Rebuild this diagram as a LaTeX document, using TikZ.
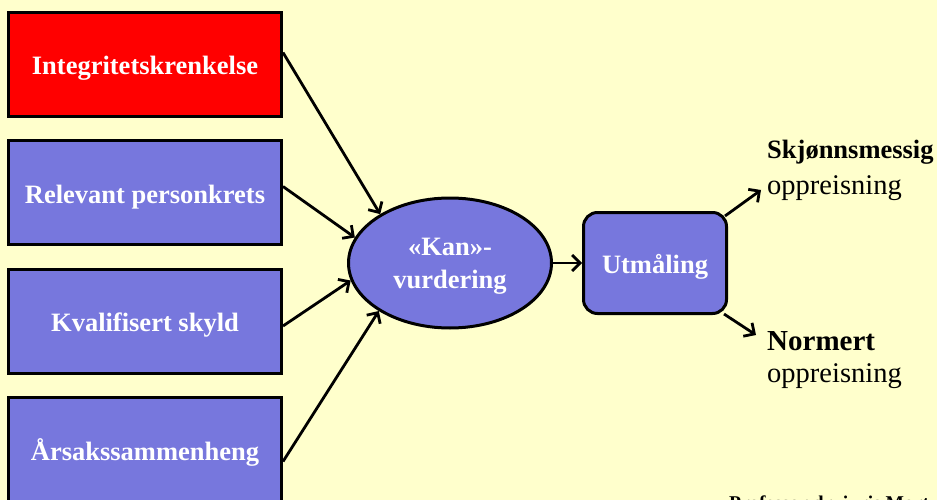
\documentclass[tikz,border=0pt]{standalone}
\usepackage{fontspec}
\setmainfont{Liberation Serif}
\usetikzlibrary{shapes.geometric,arrows.meta,calc}
\definecolor{bgyellow}{RGB}{255,255,204}
\definecolor{boxblue}{RGB}{119,119,221}
\definecolor{boxred}{RGB}{255,0,0}
\tikzset{
  factbox/.style={draw=black, line width=3pt, minimum width=273pt, minimum height=104pt,
    inner sep=0pt, text=white, text height=21pt, text depth=0pt, font=\fontsize{26.5}{32}\selectfont\bfseries},
  arr/.style={line width=2.8pt, -{Straight Barb[length=8pt,width=16pt,line width=2.8pt]}},
  outtext/.style={anchor=base west, inner sep=0pt, font=\fontsize{28.5}{33}\selectfont},
}
\begin{document}
\begin{tikzpicture}[x=1pt,y=-1pt]
\useasboundingbox (0,0) rectangle (937,500);
\fill[bgyellow] (0,0) rectangle (937,500);
\clip (0,0) rectangle (937,500);
\node[factbox, fill=boxred] (b1) at (145,64.5) {Integritetskrenkelse};
\node[factbox, fill=boxblue] (b2) at (145,192.5) {Relevant personkrets};
\node[factbox, fill=boxblue] (b3) at (145,321) {Kvalifisert skyld};
\node[factbox, fill=boxblue] (b4) at (145,449.5) {Årsakssammenheng};
\node[ellipse, draw=black, line width=3pt, fill=boxblue, minimum width=203pt, minimum height=130pt,
  inner sep=0pt, align=center, text=white, text depth=0pt, font=\fontsize{26.5}{33}\selectfont\bfseries] (kan) at (450,263) {«Kan»-\\vurdering};
\node[draw=black, line width=3pt, fill=boxblue, rounded corners=14pt, minimum width=143pt, minimum height=101pt,
  inner sep=0pt, text=white, text height=21pt, text depth=0pt, font=\fontsize{26.5}{32}\selectfont\bfseries] (utm) at (655,263) {Utmåling};
\node[outtext, font=\fontsize{26.5}{33}\selectfont\bfseries] (s1) at (767,158) {Skjønnsmessig};
\node[outtext] (s2) at (767,194) {oppreisning};
\node[outtext, font=\fontsize{29}{33}\selectfont\bfseries] (n1) at (767,350) {Normert};
\node[outtext] (n2) at (767,382) {oppreisning};
\node[anchor=base west, inner sep=0pt, font=\fontsize{19.5}{22}\selectfont\bfseries] (foot) at (729,509) {Professor dr. juris Mort};
\coordinate (sEnd) at (761,190);
\coordinate (nEnd) at (756,335);
\draw[arr] ($(b1.east)+(0,-12)$) -- (kan.145);
\draw[arr] ($(b2.east)+(0,-6)$) -- (kan.165);
\draw[arr] ($(b3.east)+(0,5)$) -- (kan.190);
\draw[arr] ($(b4.east)+(0,12)$) -- (kan.214);
\draw[arr] (kan.east) -- (utm.west);
\draw[arr] ($(utm.north east)+(-3,5)$) -- (sEnd);
\draw[arr] ($(utm.south east)+(-4,-1)$) -- (nEnd);
\end{tikzpicture}
\end{document}
